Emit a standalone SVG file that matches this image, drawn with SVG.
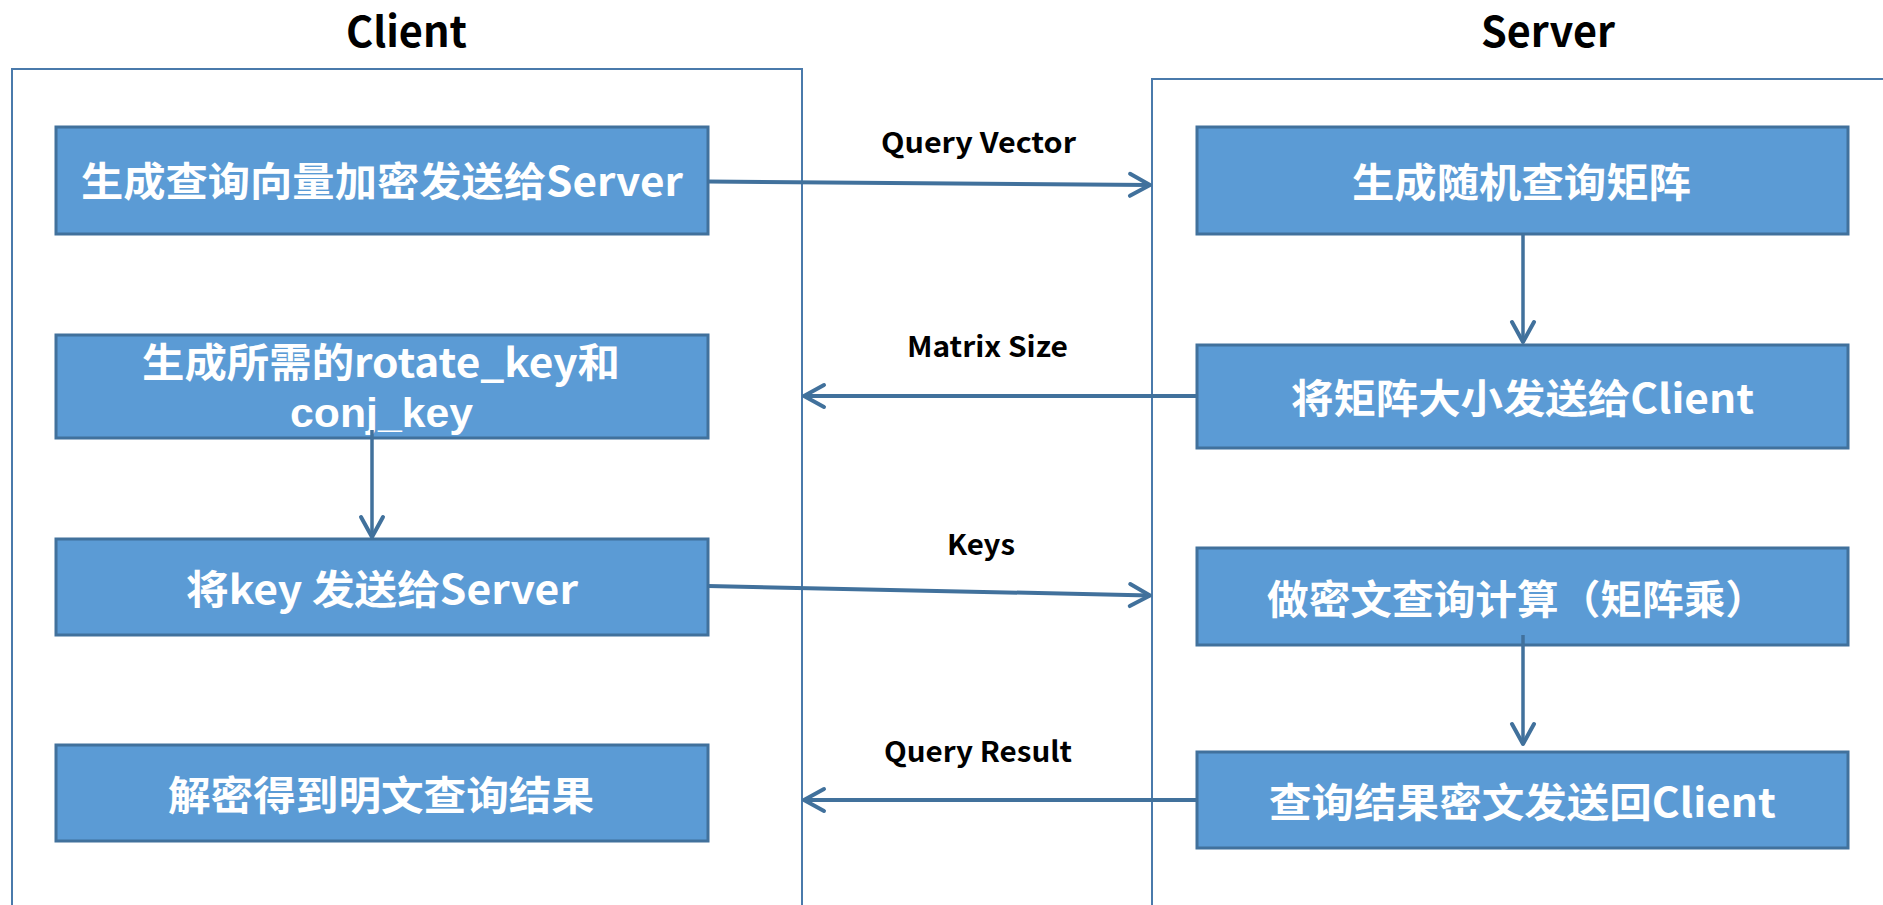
<svg xmlns="http://www.w3.org/2000/svg" width="1883" height="905" viewBox="0 0 1883 905">
  <style>
    .lane { fill: #ffffff; stroke: #4a7aab; stroke-width: 2; }
    .node rect { fill: #5b9bd5; stroke: #41719c; stroke-width: 3; }
    .node text { fill: #ffffff; font-family: "Noto Sans CJK SC", "Liberation Sans", sans-serif; font-weight: bold; font-size: 40px; text-anchor: middle; }
    .node text.latin { font-family: "Liberation Sans", "Noto Sans CJK SC", sans-serif; }
    .title { fill: #000000; font-family: "Noto Sans CJK SC", "Liberation Sans", sans-serif; font-weight: bold; font-size: 42px; text-anchor: middle; }
    .label { fill: #000000; font-family: "Noto Sans CJK SC", "Liberation Sans", sans-serif; font-weight: bold; font-size: 28px; text-anchor: middle; }
    .conn { fill: none; stroke: #41719c; stroke-width: 4; marker-end: url(#open-arrow); }
    .conn.v { stroke-width: 3.5; }
  </style>
  <defs>
    <marker id="open-arrow" markerUnits="userSpaceOnUse" viewBox="-24 -14 28 28" refX="0" refY="0" markerWidth="28" markerHeight="28" orient="auto">
      <path d="M -20 -11 L 0 0 L -20 11" fill="none" stroke="#41719c" stroke-width="4" stroke-linecap="round" stroke-linejoin="round"/>
    </marker>
  </defs>

  <rect width="1883" height="905" fill="#ffffff"/>

  <!-- swimlanes -->
  <g id="client-lane">
    <rect class="lane" x="12" y="69" width="790" height="860"/>
    <text class="title" x="406.5" y="47" textLength="121" lengthAdjust="spacingAndGlyphs">Client</text>
  </g>
  <g id="server-lane">
    <rect class="lane" x="1152" y="79" width="760" height="850"/>
    <text class="title" x="1548" y="47" textLength="134" lengthAdjust="spacingAndGlyphs">Server</text>
  </g>

  <!-- client steps -->
  <g id="c1" class="node">
    <rect x="56" y="127" width="652" height="107"/>
    <text x="382" y="196" textLength="602" lengthAdjust="spacingAndGlyphs">生成查询向量加密发送给Server</text>
  </g>
  <g id="c2" class="node">
    <rect x="56" y="335" width="652" height="103"/>
    <text x="381" y="377" textLength="478" lengthAdjust="spacingAndGlyphs">生成所需的rotate_key和</text>
    <text class="latin" x="381.5" y="427" textLength="183" lengthAdjust="spacingAndGlyphs">conj_key</text>
  </g>
  <g id="c3" class="node">
    <rect x="56" y="539" width="652" height="96"/>
    <text x="382" y="604" textLength="392" lengthAdjust="spacingAndGlyphs">将key 发送给Server</text>
  </g>
  <g id="c4" class="node">
    <rect x="56" y="745" width="652" height="96"/>
    <text x="381" y="810" textLength="426" lengthAdjust="spacingAndGlyphs">解密得到明文查询结果</text>
  </g>

  <!-- server steps -->
  <g id="s1" class="node">
    <rect x="1197" y="127" width="651" height="107"/>
    <text x="1521.5" y="197" textLength="339" lengthAdjust="spacingAndGlyphs">生成随机查询矩阵</text>
  </g>
  <g id="s2" class="node">
    <rect x="1197" y="345" width="651" height="103"/>
    <text x="1522.5" y="413" textLength="463" lengthAdjust="spacingAndGlyphs">将矩阵大小发送给Client</text>
  </g>
  <g id="s3" class="node">
    <rect x="1197" y="548" width="651" height="97"/>
    <text x="1267" y="614" textLength="500" lengthAdjust="spacingAndGlyphs" style="text-anchor:start">做密文查询计算（矩阵乘）</text>
  </g>
  <g id="s4" class="node">
    <rect x="1197" y="752" width="651" height="96"/>
    <text x="1522.5" y="817" textLength="507" lengthAdjust="spacingAndGlyphs">查询结果密文发送回Client</text>
  </g>

  <!-- message labels -->
  <g id="labels">
    <text class="label" x="978.5" y="153" textLength="195" lengthAdjust="spacingAndGlyphs">Query Vector</text>
    <text class="label" x="987.5" y="357" textLength="161" lengthAdjust="spacingAndGlyphs">Matrix Size</text>
    <text class="label" x="981" y="555" textLength="68" lengthAdjust="spacingAndGlyphs">Keys</text>
    <text class="label" x="978" y="762" textLength="188" lengthAdjust="spacingAndGlyphs">Query Result</text>
  </g>

  <!-- connectors -->
  <g id="connectors">
    <line class="conn" x1="708" y1="181.5" x2="1150" y2="185"/>
    <line class="conn" x1="1197" y1="396" x2="804" y2="396"/>
    <line class="conn" x1="708" y1="586" x2="1150" y2="595.5"/>
    <line class="conn" x1="1197" y1="800" x2="804" y2="800"/>
    <line class="conn v" x1="372" y1="430" x2="372" y2="537"/>
    <line class="conn v" x1="1523" y1="234" x2="1523" y2="342"/>
    <line class="conn v" x1="1523" y1="635" x2="1523" y2="744"/>
  </g>
</svg>
